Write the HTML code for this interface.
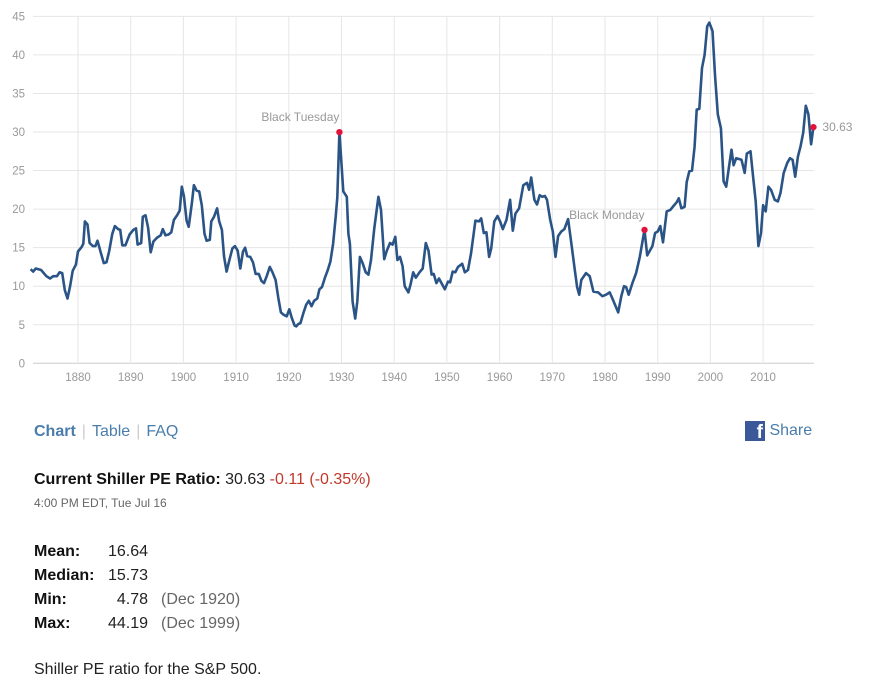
<!DOCTYPE html>
<html><head><meta charset="utf-8"><style>
body{margin:0;background:#fff;width:875px;height:681px;overflow:hidden;font-family:"Liberation Sans",Arial,sans-serif;position:relative}
.abs{position:absolute;white-space:nowrap}
.nav{top:423px;left:34px;font-size:16px;color:#4a7dab}
.nav span.sep{color:#ccc;margin:0 6px}
.lbl{font-weight:bold;color:#111}
.k{display:inline-block;width:73px;font-weight:bold;color:#111}
.v{display:inline-block;width:41px;text-align:right}
.p{color:#666;margin-left:13px}
</style></head><body>
<svg id="chart" width="875" height="400" style="position:absolute;left:0;top:0"></svg>

<div class="abs nav"><b>Chart</b><span class="sep">|</span><span>Table</span><span class="sep">|</span><span>FAQ</span></div>
<div class="abs" style="top:421px;left:745px;font-size:16px;color:#4a7dab;line-height:20px"><span style="display:inline-block;width:20px;height:20px;background:#3b5998;color:#fff;font-weight:bold;text-align:right;line-height:24px;font-size:19px;vertical-align:top;box-sizing:border-box;padding-right:2px;overflow:hidden">f</span> Share</div>
<div class="abs" style="top:471px;left:34px;font-size:16px;color:#222"><span class="lbl">Current Shiller PE Ratio:</span> 30.63 <span style="color:#c0392b">-0.11 (-0.35%)</span></div>
<div class="abs" style="top:496px;left:34px;font-size:12px;color:#666">4:00 PM EDT, Tue Jul 16</div>
<div class="abs" style="top:540px;left:34px;font-size:16px;color:#222;line-height:24px">
<div><span class="k">Mean:</span><span class="v">16.64</span></div>
<div><span class="k">Median:</span><span class="v">15.73</span></div>
<div><span class="k">Min:</span><span class="v">4.78</span><span class="p">(Dec 1920)</span></div>
<div><span class="k">Max:</span><span class="v">44.19</span><span class="p">(Dec 1999)</span></div>
</div>
<div class="abs" style="top:661px;left:34px;font-size:16px;color:#222">Shiller PE ratio for the S&amp;P 500.</div>

<script>
const years=[1871,1871.5,1872,1873,1874,1874.7,1875.3,1876,1876.5,1877,1877.5,1878,1878.5,1879,1879.6,1880,1880.7,1881,1881.3,1881.8,1882.2,1882.8,1883.3,1883.7,1884.3,1884.9,1885.4,1885.9,1886.5,1887,1887.6,1888,1888.4,1889,1889.8,1890.5,1891,1891.3,1892,1892.3,1892.8,1893.3,1893.8,1894.3,1895,1895.7,1896.1,1896.6,1897.2,1897.7,1898.2,1898.8,1899.3,1899.7,1900.1,1900.6,1901,1901.6,1902,1902.5,1903,1903.5,1904,1904.4,1905,1905.3,1905.8,1906.4,1906.8,1907.3,1907.7,1908.2,1908.7,1909.3,1909.8,1910.3,1910.8,1911.3,1911.7,1912.1,1912.7,1913.2,1913.7,1914.3,1914.8,1915.3,1915.8,1916.4,1916.9,1917.5,1918,1918.5,1919,1919.6,1920.1,1920.6,1921.1,1921.4,1921.8,1922.2,1922.8,1923.3,1923.8,1924.3,1924.8,1925.4,1925.8,1926.3,1926.9,1927.4,1927.9,1928.4,1928.9,1929.2,1929.6,1930.35,1931,1931.3,1931.6,1932.1,1932.6,1933,1933.5,1934,1934.6,1935.1,1935.6,1936.2,1937,1937.5,1938.1,1938.6,1939.2,1939.7,1940.2,1940.6,1941.1,1941.6,1942,1942.7,1943.1,1943.6,1944.1,1944.8,1945.4,1946,1946.5,1947.1,1947.5,1948,1948.5,1949.6,1950.2,1950.6,1951.1,1951.6,1952.1,1952.9,1953.4,1954,1954.6,1955.4,1956.1,1956.5,1957,1957.5,1958,1958.4,1959,1959.6,1960.1,1960.6,1961.3,1962,1962.5,1963,1963.7,1964.5,1965.2,1965.6,1966,1966.6,1967.1,1967.6,1968.1,1968.6,1969,1969.6,1970.1,1970.6,1971.1,1971.7,1972.3,1973,1973.6,1974.2,1974.7,1975.1,1975.5,1976.4,1977.1,1977.8,1978.7,1979.5,1980.2,1980.9,1981.4,1981.9,1982.5,1983.1,1983.6,1984,1984.5,1985.2,1985.9,1986.6,1987.5,1988,1989,1989.5,1990,1990.5,1991,1991.7,1992.4,1993,1993.6,1994,1994.5,1995.1,1995.5,1996,1996.5,1997,1997.4,1997.9,1998.4,1998.9,1999.4,1999.8,2000.4,2000.9,2001.4,2002,2002.5,2003,2003.5,2004,2004.4,2004.9,2005.9,2006.5,2006.9,2007.6,2008.1,2008.6,2009.1,2009.6,2010,2010.5,2011,2011.5,2012.2,2012.8,2013.3,2013.9,2014.6,2015.1,2015.6,2016.1,2016.6,2017.1,2017.6,2018.1,2018.6,2019.1,2019.55];
const pe=[12.2,11.9,12.3,12.1,11.3,11.0,11.3,11.3,11.8,11.7,9.5,8.4,10,12,12.8,14.5,15.1,15.5,18.4,18,15.6,15.2,15.2,15.9,14.4,13.0,13.1,14.5,16.8,17.8,17.4,17.3,15.3,15.3,16.7,17.3,17.5,15.4,15.6,19.0,19.2,17.6,14.4,15.8,16.3,16.6,17.4,16.6,16.7,17.0,18.6,19.2,19.8,22.9,21.7,18.5,17.7,20.7,23.1,22.4,22.3,20.5,16.8,15.9,16.0,18.4,19.0,20.1,18.4,17.3,13.9,11.9,13.3,14.9,15.2,14.6,12.3,14.5,15.0,13.9,13.8,13.1,11.6,11.6,10.7,10.4,11.3,12.5,11.8,10.8,8.5,6.6,6.3,6.1,7.0,5.8,4.9,4.78,5.1,5.2,6.6,7.6,8.1,7.4,8.1,8.4,9.6,9.9,11.2,12.1,13.2,15.5,19,21.5,29.98,22.3,21.6,16.8,15.5,8,5.8,8,13.8,13,11.8,11.5,13.4,17.4,21.6,19.9,13.5,14.6,15.6,15.4,16.4,13.4,13.8,12.6,10,9.2,10.2,11.8,11.1,11.8,12.3,15.6,14.6,11.5,11.6,10.4,11.0,9.6,10.6,10.5,11.9,11.8,12.5,12.9,11.8,12.1,14.3,18.5,18.4,18.8,16.9,17.0,13.8,14.9,18.4,19.1,18.4,17.4,18.6,21.2,17.2,19.4,20.1,23.1,23.4,22.5,24.1,21.2,20.6,21.8,21.6,21.7,21.2,18.6,17.1,13.8,16.5,17.1,17.4,18.7,15.6,12.5,9.9,8.9,10.8,11.7,11.3,9.3,9.2,8.7,8.9,9.2,8.4,7.6,6.6,8.7,10.0,9.9,8.9,10.4,11.7,13.8,17.3,14.0,15.2,16.9,17.1,17.8,15.7,19.7,19.9,20.4,20.9,21.4,20.1,20.3,23.5,24.9,25.0,28.1,32.9,33.0,38.3,40.0,43.7,44.19,43.1,37.2,32.3,30.5,23.6,22.9,25.3,27.7,25.7,26.6,26.4,24.7,27.2,27.5,24.2,21.0,15.2,16.9,20.5,19.7,22.9,22.5,21.2,21.0,22.1,24.7,26.0,26.6,26.4,24.2,26.8,28.1,29.9,33.4,32.3,28.4,30.63];
const yTicks=[0,5,10,15,20,25,30,35,40,45];
const xTicks=[1880,1890,1900,1910,1920,1930,1940,1950,1960,1970,1980,1990,2000,2010];
const events=[["Black Tuesday",1929.6,29.98],["Black Monday",1987.5,17.3]];

const NS="http://www.w3.org/2000/svg";
const svg=document.getElementById('chart');
const X=y=>78+(y-1880)*5.27;
const Y=v=>363.3-v*7.71;
const L=33,R=814;
function mk(t,a,p){const e=document.createElementNS(NS,t);for(const k in a)e.setAttribute(k,a[k]);(p||svg).appendChild(e);return e;}
yTicks.forEach(v=>{
  const g=mk('line',{x1:L,x2:R,y1:Y(v),y2:Y(v),stroke:v===0?'#ccc':'#e6e6e6','stroke-width':1});
  
  
  const t=mk('text',{x:25,y:Y(v)+4,'text-anchor':'end','font-size':11.5,fill:'#999','font-family':'Liberation Sans, sans-serif'});
  t.textContent=v;
  
  
});
xTicks.forEach(yr=>{
  const g=mk('line',{x1:X(yr),x2:X(yr),y1:Y(45),y2:Y(0),stroke:'#e6e6e6','stroke-width':1});
  
  
  const t=mk('text',{x:X(yr),y:381,'text-anchor':'middle','font-size':11.5,fill:'#999','font-family':'Liberation Sans, sans-serif'});
  t.textContent=yr;
  
  
});
const d=years.map((y,i)=>(i?'L':'M')+X(y).toFixed(1)+','+Y(pe[i]).toFixed(1)).join('');
const line=mk('path',{d:d,fill:'none',stroke:'#2b5486','stroke-width':2.6,'stroke-linejoin':'round'});


events.forEach(ev=>{
  const c=mk('circle',{cx:X(ev[1]),cy:Y(ev[2]),r:3.2,fill:'#e2133a'});
  
  
  const t=mk('text',{x:X(ev[1]),y:Y(ev[2])-11,'text-anchor':'end','font-size':12,fill:'#999','font-family':'Liberation Sans, sans-serif'});
  t.textContent=ev[0];
  
  
});
const li=years.length-1;
const lc=mk('circle',{cx:X(years[li]),cy:Y(pe[li]),r:3.2,fill:'#e2133a'});


const lt=mk('text',{x:X(years[li])+9,y:Y(pe[li])+4,'font-size':12,fill:'#999','font-family':'Liberation Sans, sans-serif'});
lt.textContent=pe[li].toFixed(2);


</script>
</body></html>
